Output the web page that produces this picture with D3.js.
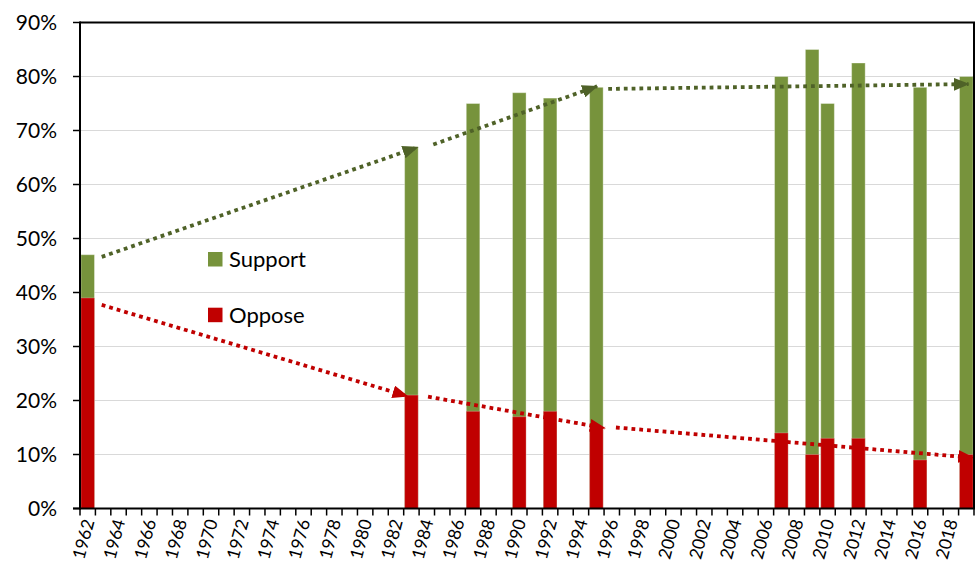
<!DOCTYPE html>
<html>
<head>
<meta charset="utf-8">
<script src="https://cdn.jsdelivr.net/npm/d3@7"></script>
<style>
  html, body { margin: 0; padding: 0; background: #fff; }
  svg { display: block; }
  text { font-family: Lato, "Open Sans", "Liberation Sans", sans-serif; fill: #000; }
</style>
</head>
<body>
<svg id="chart" width="975" height="563"></svg>
<script>
// ---- data ----
const axisYears = d3.range(1962, 2020);            // category axis 1962..2019
const xTickLabels = d3.range(1962, 2020, 2);        // labelled years
const yTicks = [0, 10, 20, 30, 40, 50, 60, 70, 80, 90];
const surveyYears = [1962, 1983, 1987, 1990, 1992, 1995, 2007, 2009, 2010, 2012, 2016, 2019];
const support     = [47,   67,   75,   77,   76,   78,   80,   85,   75,   82.5, 78,   80];
const oppose      = [39,   21,   18,   17,   18,   15,   14,   10,   13,   13,   9,    10];
// trend arrows: [fromYear, fromValue, toYear, toValue] (fractional year positions)
const supportTrend = [
  [1963.41, 46.6, 1983.9, 66.9],
  [1984.92, 67.4, 1995.55, 78.2],
  [1996.27, 77.7, 2019.65, 78.6]
];
const opposeTrend = [
  [1963.41, 37.7, 1983.25, 20.8],
  [1984.58, 20.7, 1996.05, 14.9],
  [1996.77, 15.0, 2019.95, 9.4]
];
const seriesNames = ["Support", "Oppose"];
const colors = { support: "#77933C", oppose: "#C00000", supportTrend: "#4F6228", opposeTrend: "#C00000" };

// ---- layout ----
const L = 80, R = 974, T = 22.5, B = 508.5;
const svg = d3.select("#chart");

const x = d3.scaleBand().domain(axisYears).range([L, R]).paddingInner(0.12).paddingOuter(0.06);
const xc = d3.scaleLinear().domain([1962, 2020]).range([L, R]);  // continuous year position (band edges)
const y = d3.scaleLinear().domain([0, 90]).range([B, T]);

// gridlines
svg.append("g").selectAll("line").data(yTicks.filter(d => d > 0 && d < 90)).join("line")
  .attr("x1", L).attr("x2", R).attr("y1", d => y(d)).attr("y2", d => y(d))
  .attr("stroke", "#d9d9d9").attr("stroke-width", 1.2);

// bars
const rows = surveyYears.map((yr, i) => ({ yr, s: support[i], o: oppose[i] }));
svg.append("g").selectAll("rect").data(rows).join("rect")
  .attr("x", d => x(d.yr)).attr("width", x.bandwidth())
  .attr("y", d => y(d.s)).attr("height", d => y(0) - y(d.s))
  .attr("fill", colors.support).attr("stroke", "rgba(255,255,255,0.35)").attr("stroke-width", 1);
svg.append("g").selectAll("rect").data(rows).join("rect")
  .attr("x", d => x(d.yr)).attr("width", x.bandwidth())
  .attr("y", d => y(d.o)).attr("height", d => y(0) - y(d.o))
  .attr("fill", colors.oppose).attr("stroke", "rgba(255,255,255,0.25)").attr("stroke-width", 1);

// arrow markers
const defs = svg.append("defs");
function marker(id, color) {
  defs.append("marker").attr("id", id)
    .attr("markerUnits", "userSpaceOnUse")
    .attr("viewBox", "0 0 16 13").attr("refX", 15).attr("refY", 6.5)
    .attr("markerWidth", 16).attr("markerHeight", 13).attr("orient", "auto")
    .append("path").attr("d", "M0,0 L16,6.5 L0,13 Z").attr("fill", color);
}
marker("arrG", colors.supportTrend);
marker("arrR", colors.opposeTrend);

function trend(data, color, mk) {
  svg.append("g").selectAll("line").data(data).join("line")
    .attr("x1", d => xc(d[0])).attr("y1", d => y(d[1]))
    .attr("x2", d => xc(d[2])).attr("y2", d => y(d[3]))
    .attr("stroke", color).attr("stroke-width", 3.8)
    .attr("stroke-dasharray", "3.8 4")
    .attr("marker-end", `url(#${mk})`);
}
trend(supportTrend, colors.supportTrend, "arrG");
trend(opposeTrend, colors.opposeTrend, "arrR");

// frame: top & right borders
svg.append("line").attr("x1", L).attr("x2", R + 1).attr("y1", T).attr("y2", T)
  .attr("stroke", "#000").attr("stroke-width", 2);
svg.append("line").attr("x1", R).attr("x2", R).attr("y1", T).attr("y2", B)
  .attr("stroke", "#000").attr("stroke-width", 2);

// y axis
const yAxis = svg.append("g");
yAxis.append("line").attr("x1", L).attr("x2", L).attr("y1", T - 1).attr("y2", B + 1)
  .attr("stroke", "#000").attr("stroke-width", 2);
yAxis.selectAll("line.tick").data(yTicks).join("line").attr("class", "tick")
  .attr("x1", L - 7).attr("x2", L).attr("y1", d => y(d)).attr("y2", d => y(d))
  .attr("stroke", "#000").attr("stroke-width", 1.5);
yAxis.selectAll("text").data(yTicks).join("text")
  .attr("x", 57).attr("y", d => y(d)).attr("dy", "0.36em")
  .attr("text-anchor", "end").attr("font-size", 21)
  .text(d => d + "%");

// x axis
const xAxis = svg.append("g");
xAxis.append("line").attr("x1", L - 7).attr("x2", R + 1).attr("y1", B).attr("y2", B)
  .attr("stroke", "#000").attr("stroke-width", 2);
xAxis.selectAll("line.tick").data(d3.range(1962, 2021)).join("line").attr("class", "tick")
  .attr("x1", d => xc(d)).attr("x2", d => xc(d)).attr("y1", B).attr("y2", B + 7)
  .attr("stroke", "#000").attr("stroke-width", 1.5);
xAxis.selectAll("text").data(xTickLabels).join("text")
  .attr("transform", d => `translate(${xc(d) + x.step() / 2 + 1},${B + 11}) rotate(-75)`)
  .attr("dy", "0.35em").attr("text-anchor", "end").attr("font-size", 17.5)
  .text(d => d);

// legend
const legend = svg.append("g");
const legItems = [
  { name: seriesNames[0], color: colors.support, y: 252 },
  { name: seriesNames[1], color: colors.oppose, y: 307.7 }
];
legend.selectAll("rect").data(legItems).join("rect")
  .attr("x", 208).attr("y", d => d.y).attr("width", 14.5).attr("height", 14.5)
  .attr("fill", d => d.color);
legend.selectAll("text").data(legItems).join("text")
  .attr("x", 229).attr("y", d => d.y + 14.8).attr("font-size", 22)
  .text(d => d.name);
</script>
</body>
</html>
